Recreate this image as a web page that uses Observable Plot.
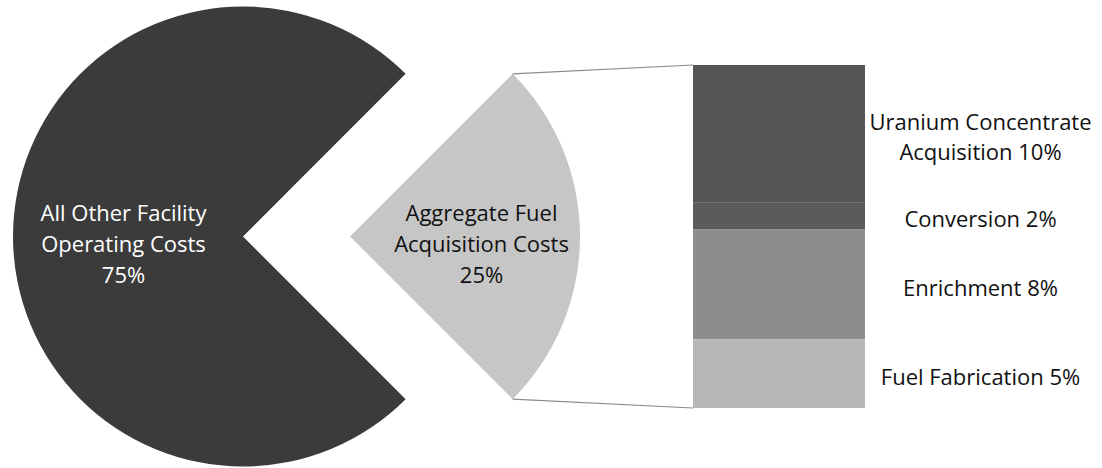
<!DOCTYPE html>
<html><head><meta charset="utf-8">
<script src="https://cdn.jsdelivr.net/npm/d3@7"></script>
<script src="https://cdn.jsdelivr.net/npm/@observablehq/plot@0.6"></script>
<style>body{margin:0;background:#fff;overflow:hidden}</style>
</head><body><div id="chart"></div>
<script>
// ---- data ----
const pieNames = ["All Other Facility\nOperating Costs", "Aggregate Fuel\nAcquisition Costs"];
const pieValues = [75, 25];
const barNames = ["Uranium Concentrate\nAcquisition", "Conversion", "Enrichment", "Fuel Fabrication"];
const barValues = [10, 2, 8, 5];

// ---- styles / layout ----
const pieColors = ["#3b3b3b", "#c6c6c6"];
const barColors = ["#555555", "#5b5b5b", "#8d8d8d", "#b7b7b7"];
const W = 1102, H = 468;
const pieCx = 243, wedgeCx = 350, R = 230;
const barX1 = 693, barX2 = 865, barLabelX = 980;
const font = "Open Sans, sans-serif";

const total = d3.sum(barValues);
const starts = [0, ...d3.cumsum(barValues)].slice(0, barValues.length);
const barData = barNames.map((n, i) => ({name: n, value: barValues[i], y1: starts[i], y2: starts[i] + barValues[i],
  label: n + " " + barValues[i] + "%"}));
const pieLabelData = pieNames.map((n, i) => ({name: n, value: pieValues[i], label: n + "\n" + pieValues[i] + "%"}));

const arcs = d3.pie().sort(null).startAngle(3 * Math.PI / 4).endAngle(3 * Math.PI / 4 + 2 * Math.PI)(pieValues);

function pieMark(index, scales) {
  const g = d3.create("svg:g");
  const cy = scales.y(total / 2);
  const r = scales.x(R) - scales.x(0);
  const arc = d3.arc().innerRadius(0).outerRadius(r);
  arcs.forEach((a, i) => {
    const cx = scales.x(i === 0 ? pieCx : wedgeCx);
    g.append("path").attr("transform", `translate(${cx},${cy})`).attr("d", arc(a)).attr("fill", pieColors[i]);
  });
  // connector lines from exploded wedge to bar
  const w = arcs[1];
  const cx = scales.x(wedgeCx);
  const p = t => [cx + r * Math.sin(t), cy - r * Math.cos(t)];
  const [ax, ay] = p(w.startAngle), [bx, by] = p(w.endAngle);
  const bxl = scales.x(barX1);
  g.append("line").attr("x1", ax).attr("y1", ay).attr("x2", bxl).attr("y2", scales.y(0)).attr("stroke", "#8a8a8a").attr("stroke-width", 1.2);
  g.append("line").attr("x1", bx).attr("y1", by).attr("x2", bxl).attr("y2", scales.y(total)).attr("stroke", "#8a8a8a").attr("stroke-width", 1.2);
  return g.node();
}

const chart = Plot.plot({
  width: W, height: H, margin: 0,
  style: {fontFamily: font, background: "#fff"},
  x: {domain: [0, W], range: [0, W], axis: null},
  y: {domain: [0, total], range: [65, 408], axis: null},
  color: {domain: barNames, range: barColors},
  marks: [
    pieMark,
    Plot.rect(barData, {x1: () => barX1, x2: () => barX2, y1: "y1", y2: "y2", fill: "name"}),
    Plot.text(barData, {x: () => barLabelX, y: d => (d.y1 + d.y2) / 2, text: "label", fontSize: 22, fill: "#111", dy: 1, lineHeight: 1.4, textAnchor: "middle"}),
    Plot.text(pieLabelData, {x: (d, i) => i === 0 ? pieCx - 120 : wedgeCx + 131, y: () => total / 2, text: "label",
      fill: (d, i) => i === 0 ? "#ffffff" : "#111111", fontSize: 22, lineHeight: 1.4, dy: 5, textAnchor: "middle"})
  ]
});
document.getElementById("chart").appendChild(chart);
</script>
</body></html>
